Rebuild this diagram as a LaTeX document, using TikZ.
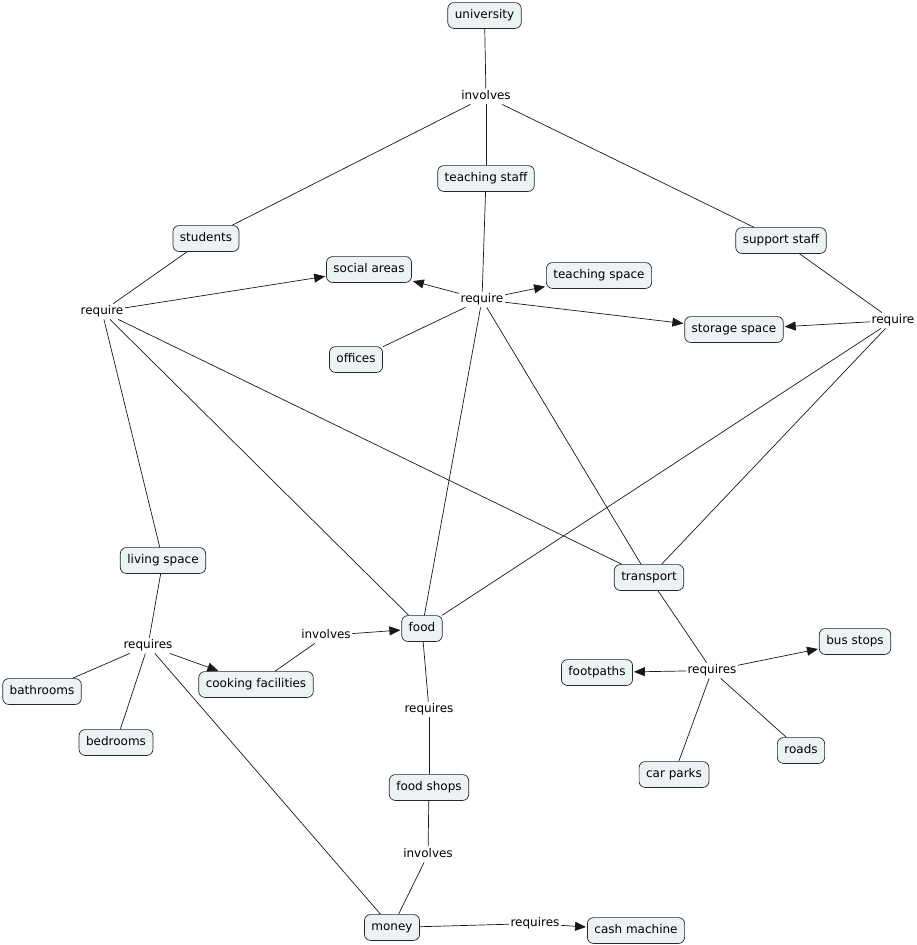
\documentclass[tikz,border=0pt]{standalone}
\usepackage{fontspec}
\setmainfont{DejaVu Sans}
\usetikzlibrary{arrows.meta}
\begin{document}
\begin{tikzpicture}[x=1pt,y=-1pt,
  concept/.style={draw=black!85,fill=boxfill,rounded corners=6pt,font=\fontsize{12}{14}\selectfont,
    text height=8.8pt,text depth=2.6pt,inner xsep=7pt,inner ysep=7.2pt,line width=0.7pt},
  link/.style={font=\fontsize{12}{14}\selectfont,text height=8.8pt,text depth=2.6pt,inner xsep=1.5pt,inner ysep=2pt},
  conn/.style={draw=black!90,line width=0.7pt},
  arr/.style={conn,-{Triangle[length=11pt,width=9pt]},shorten >=1pt}]
\definecolor{boxfill}{HTML}{EDF3F5}
\useasboundingbox (0,0) rectangle (917,945);
% concepts
\node[concept] (univ) at (484.5,15.5) {university};
\node[concept] (tstaff) at (486,178.5) {teaching staff};
\node[concept] (students) at (206,238.5) {students};
\node[concept] (sstaff) at (781,240.5) {support staff};
\node[concept] (social) at (369,269.5) {social areas};
\node[concept] (tspace) at (599,275.5) {teaching space};
\node[concept] (storage) at (734,329.5) {storage space};
\node[concept] (offices) at (356,359.5) {offices};
\node[concept] (living) at (163,560.5) {living space};
\node[concept] (transport) at (649,577.5) {transport};
\node[concept] (food) at (422,628.5) {food};
\node[concept] (bus) at (855,641.5) {bus stops};
\node[concept] (foot) at (597,672.5) {footpaths};
\node[concept] (cook) at (256,684.5) {cooking facilities};
\node[concept] (bath) at (42,691.5) {bathrooms};
\node[concept] (bed) at (116,742.5) {bedrooms};
\node[concept] (roads) at (801,750.5) {roads};
\node[concept] (car) at (674,774.5) {car parks};
\node[concept] (shops) at (429,787.5) {food shops};
\node[concept] (money) at (392,927.5) {money};
\node[concept] (cash) at (636,930.5) {cash machine};
% link phrases
\node[link] (inv1) at (486,96.5) {involves};
\node[link] (reqC) at (482,299.5) {require};
\node[link] (reqL) at (102,311.5) {require};
\node[link] (reqR) at (893,320.5) {require};
\node[link] (reqsL) at (148,645.5) {requires};
\node[link] (inv2) at (326,635.5) {involves};
\node[link] (reqsR) at (712,670.5) {requires};
\node[link] (reqsM) at (429,709.5) {requires};
\node[link] (inv3) at (428,854.5) {involves};
\node[link] (reqsB) at (535,923.5) {requires};
% connectors
\draw[conn] (univ) -- (inv1);
\draw[conn] (inv1) -- (students);
\draw[conn] (inv1) -- (tstaff);
\draw[conn] (inv1) -- (sstaff);
\draw[conn] (students) -- (reqL);
\draw[arr] (reqL) -- (social);
\draw[conn] (reqL) -- (living);
\draw[conn] (reqL) -- (food);
\draw[conn] (reqL) -- (transport);
\draw[conn] (tstaff) -- (reqC);
\draw[arr] (reqC) -- (social);
\draw[arr] (reqC) -- (tspace);
\draw[arr] (reqC) -- (storage);
\draw[conn] (reqC) -- (offices);
\draw[conn] (reqC) -- (food);
\draw[conn] (reqC) -- (transport);
\draw[conn] (sstaff) -- (reqR);
\draw[arr] (reqR) -- (storage);
\draw[conn] (reqR) -- (food);
\draw[conn] (reqR) -- (transport);
\draw[conn] (living) -- (reqsL);
\draw[conn] (reqsL) -- (bath);
\draw[conn] (reqsL) -- (bed);
\draw[conn] (reqsL) -- (money);
\draw[arr] (reqsL) -- (cook);
\draw[conn] (cook) -- (inv2);
\draw[arr] (inv2) -- (food);
\draw[conn] (food) -- (reqsM);
\draw[conn] (reqsM) -- (shops);
\draw[conn] (shops) -- (inv3);
\draw[conn] (inv3) -- (money);
\draw[conn] (money) -- (reqsB);
\draw[arr] (reqsB) -- (cash);
\draw[conn] (transport) -- (reqsR);
\draw[arr] (reqsR) -- (foot);
\draw[arr] (reqsR) -- (bus);
\draw[conn] (reqsR) -- (car);
\draw[conn] (reqsR) -- (roads);
\end{tikzpicture}
\end{document}
